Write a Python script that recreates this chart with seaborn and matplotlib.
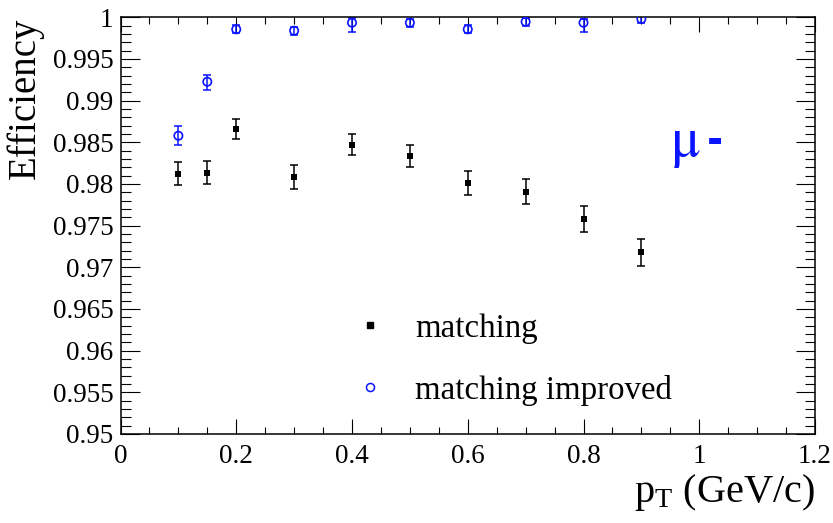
import numpy as np
import pandas as pd
import seaborn as sns
import matplotlib
matplotlib.use("Agg")
import matplotlib.pyplot as plt
from matplotlib.ticker import MultipleLocator, FuncFormatter
from matplotlib.lines import Line2D

# ---- data ----
pt = [0.1, 0.15, 0.2, 0.3, 0.4, 0.5, 0.6, 0.7, 0.8, 0.9]
eff_matching = [0.9812, 0.98135, 0.9866, 0.98087, 0.98471, 0.98336, 0.98012, 0.97907, 0.9758, 0.9718]
err_matching = [0.00138, 0.00138, 0.0012, 0.00142, 0.00124, 0.00132, 0.00148, 0.0015, 0.00156, 0.00164]
eff_improved = [0.98579, 0.99227, 0.99856, 0.99839, 0.99935, 0.99935, 0.99856, 0.99947, 0.99935, 0.9998]
err_improved_lo = [0.0011, 0.001, 0.0005, 0.0005, 0.00115, 0.0005, 0.0005, 0.0005, 0.00115, 0.0005]
err_improved_hi = [0.0012, 0.00077, 0.0005, 0.0005, 0.00053, 0.0005, 0.0005, 0.0004, 0.0005, 0.0003]
labels = ["matching", "matching improved"]

BLUE = "#0a14ff"

sns.set_theme(style="ticks")
plt.rcParams["font.family"] = ["Liberation Serif", "DejaVu Serif"]
plt.rcParams["mathtext.fontset"] = "stix"
for key in ["text.color", "axes.labelcolor", "xtick.color", "ytick.color",
            "xtick.labelcolor", "ytick.labelcolor", "axes.edgecolor"]:
    plt.rcParams[key] = "black"

fig = plt.figure(figsize=(8.33, 5.23), dpi=100)
ax = fig.add_axes([120.5 / 833, 1 - 434 / 523, (815 - 120.5) / 833, (434 - 17.3) / 523])

df_m = pd.DataFrame({"pt": pt, "eff": eff_matching})
df_i = pd.DataFrame({"pt": pt, "eff": eff_improved})

ax.errorbar(pt, eff_matching, yerr=err_matching, fmt="none", ecolor="black",
            elinewidth=1.1, capsize=2.6, capthick=1.1, zorder=2)
ax.errorbar(pt, eff_improved, yerr=[err_improved_lo, err_improved_hi], fmt="none",
            ecolor=BLUE, elinewidth=1.1, capsize=2.6, capthick=1.1, zorder=2)

sns.scatterplot(data=df_m, x="pt", y="eff", marker="s", color="black", s=20,
                linewidth=0, ax=ax, zorder=3)
sns.scatterplot(data=df_i, x="pt", y="eff", marker="o", s=36, ax=ax, zorder=3,
                fc="none", ec=BLUE, linewidth=1.2)

ax.set_xlim(0, 1.2)
ax.set_ylim(0.95, 1.0)

ax.xaxis.set_major_locator(MultipleLocator(0.2))
ax.xaxis.set_minor_locator(MultipleLocator(0.05))
ax.yaxis.set_major_locator(MultipleLocator(0.005))
ax.yaxis.set_minor_locator(MultipleLocator(0.001))
ax.xaxis.set_major_formatter(FuncFormatter(lambda v, p: "%g" % round(v, 4)))
ax.yaxis.set_major_formatter(FuncFormatter(lambda v, p: "%g" % round(v, 4)))

ax.tick_params(which="both", direction="in", top=True, right=True,
               width=0.8, color="black", labelsize=19.5, labelcolor="black")
ax.tick_params(axis="x", which="major", length=10.5, pad=7)
ax.tick_params(axis="x", which="minor", length=5)
ax.tick_params(axis="y", which="major", length=13.5, pad=5)
ax.tick_params(axis="y", which="minor", length=7)
for s in ax.spines.values():
    s.set_linewidth(1.1)
    s.set_color("black")

ax.set_xlabel(r"$\mathregular{p_{T}}$ (GeV/c)", fontsize=29, loc="right", color="black")
ax.xaxis.set_label_coords(1.0, -0.09)
ax.set_ylabel("Efficiency", fontsize=28, loc="top", color="black")
ax.yaxis.set_label_coords(-0.11, 1.0)

ax.text(0.9495, 0.98336, r"$\mathrm{\mu}$", color=BLUE, fontsize=40,
        ha="left", va="baseline")
ax.text(1.0264, 0.98504, "-", color=BLUE, fontsize=28, fontweight="bold",
        family="DejaVu Sans", ha="center", va="center")

handles = [
    Line2D([], [], marker="s", color="black", linestyle="none", markersize=4.3),
    Line2D([], [], marker="o", markerfacecolor="none", markeredgecolor=BLUE,
           markeredgewidth=1.1, linestyle="none", markersize=5.8),
]
leg = ax.legend(handles, labels, loc="upper left", bbox_to_anchor=(354 / 833, 1 - 313 / 523),
                bbox_transform=fig.transFigure, frameon=False, fontsize=23.7,
                labelspacing=0.95, handletextpad=0.86, handlelength=1.0, borderpad=0,
                borderaxespad=0, labelcolor="black")

fig.savefig("out.png", dpi=100)
